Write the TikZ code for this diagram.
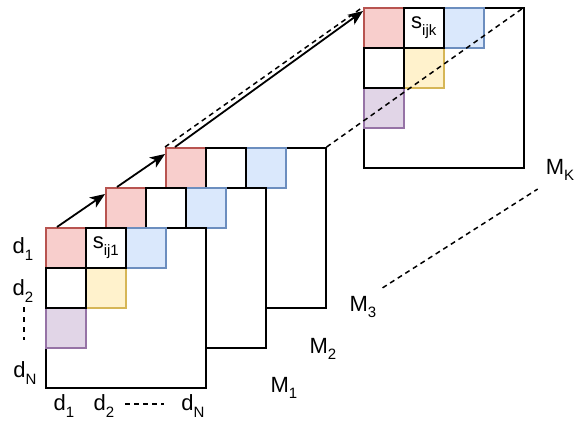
\documentclass[tikz,border=0pt]{standalone}
\usepackage{fontspec}
\setmainfont{Liberation Sans}
\usetikzlibrary{arrows.meta,calc}
\definecolor{rfill}{HTML}{F8CECC}\definecolor{rline}{HTML}{B85450}
\definecolor{bfill}{HTML}{DAE8FC}\definecolor{bline}{HTML}{6C8EBF}
\definecolor{yfill}{HTML}{FFF2CC}\definecolor{yline}{HTML}{D6B656}
\definecolor{pfill}{HTML}{E1D5E7}\definecolor{pline}{HTML}{9673A6}
\newcommand{\sbs}[1]{\raisebox{-0.3em}{\fontsize{15}{15}\selectfont #1}}
\begin{document}
\begin{tikzpicture}[x=1pt,y=-1pt,
  mat/.style={draw=black,fill=white,line width=1.6pt,minimum size=160pt,inner sep=0pt,anchor=north west},
  cellbase/.style={minimum size=40pt,inner sep=0pt,anchor=north west,line width=1.6pt},
  redcell/.style={cellbase,draw=rline,fill=rfill},
  bluecell/.style={cellbase,draw=bline,fill=bfill},
  yelcell/.style={cellbase,draw=yline,fill=yfill},
  purcell/.style={cellbase,draw=pline,fill=pfill},
  whitecell/.style={cellbase,draw=black,fill=white},
  lbl/.style={font=\fontsize{22}{22}\selectfont,inner sep=0pt},
  arr/.style={line width=1.8pt,-{Stealth[length=15pt,width=12pt,inset=4pt]}},
  dsh/.style={line width=1.5pt,dash pattern=on 5pt off 4pt}
]
\useasboundingbox (0,0) rectangle (575,421);
% Matrix K
\node[mat] (mk) at (363,7) {};
\node[redcell] (mkr) at (363,7) {};
\node[bluecell] (mkb) at (443,7) {};
\node[yelcell] (mky) at (403,47) {};
\node[purcell] (mkp) at (363,87) {};
\node[whitecell,lbl] (mks) at (403,7) {s\sbs{ijk}};
\node[whitecell] (mkw) at (363,47) {};
% Matrix 3
\node[mat] (m3) at (165,147) {};
\node[redcell] (m3r) at (165,147) {};
\node[bluecell] (m3b) at (245,147) {};
\node[whitecell] (m3w) at (205,147) {};
% Matrix 2
\node[mat] (m2) at (105,187) {};
\node[redcell] (m2r) at (105,187) {};
\node[bluecell] (m2b) at (185,187) {};
\node[whitecell] (m2w) at (145,187) {};
% Matrix 1
\node[mat] (m1) at (45,227) {};
\node[redcell] (m1r) at (45,227) {};
\node[bluecell] (m1b) at (125,227) {};
\node[yelcell] (m1y) at (85,267) {};
\node[purcell] (m1p) at (45,307) {};
\node[whitecell,lbl] (m1s) at (85,227) {s\sbs{ij1}};
\node[whitecell] (m1w) at (45,267) {};
% connectors
\draw[dsh] (m3.north east) -- (mk.north east);
\draw[dsh] (m3.north west) -- (mk.north west);
\draw[arr] ($(m1r.north west)+(12,0)$) -- ($(m2r.north west)+(0,7)$);
\draw[arr] ($(m2r.north west)+(12,0)$) -- ($(m3r.north west)+(0,7)$);
\draw[arr] ($(m3r.north west)+(10,0)$) -- ($(mkr.north west)+(0,4)$);
% labels
\node[lbl] (ld1) at (23,249) {d\sbs{1}};
\node[lbl] (ld2) at (23,291) {d\sbs{2}};
\node[lbl] (ldn) at (25,373) {d\sbs{N}};
\coordinate (vd1) at (24,307);
\coordinate (vd2) at (24,340);
\draw[line width=1.5pt,dash pattern=on 5pt off 5pt] (vd1) -- (vd2);
\node[lbl] (bd1) at (64,406) {d\sbs{1}};
\node[lbl] (bd2) at (104,406) {d\sbs{2}};
\node[lbl] (bdn) at (193,406) {d\sbs{N}};
\coordinate (hd1) at (125,404);
\coordinate (hd2) at (164,404);
\draw[line width=1.5pt,dash pattern=on 5pt off 4pt] (hd1) -- (hd2);
\node[lbl] (lm1) at (284,388) {M\sbs{1}};
\node[lbl] (lm2) at (323,349) {M\sbs{2}};
\node[lbl] (lm3) at (363,307) {M\sbs{3}};
\node[lbl] (lmk) at (560,170) {M\sbs{K}};
\draw[dsh] ($(lm3.north east)+(6,-8)$) -- ($(lmk.south west)+(-8,8)$);
\end{tikzpicture}
\end{document}
